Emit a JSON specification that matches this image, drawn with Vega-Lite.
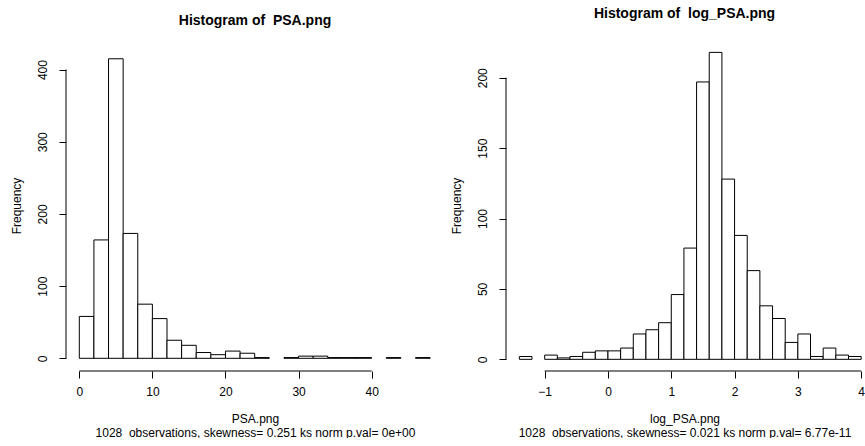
{
  "$schema": "https://vega.github.io/schema/vega-lite/v6.json",
  "padding": {"left": 10, "top": 7, "right": 0, "bottom": 0},
  "background": "white",
  "spacing": 62,
  "bounds": "flush",
  "config": {
    "view": {"stroke": null},
    "axis": {
      "domain": false, "grid": false, "tickColor": "black", "tickSize": 7, "tickWidth": 1,
      "labelColor": "black", "titleColor": "black", "labelFont": "Liberation Sans", "titleFont": "Liberation Sans",
      "labelFontSize": 12, "titleFontSize": 12, "titleFontWeight": "normal", "labelOverlap": false, "labelFlush": false
    },
    "title": {"font": "Liberation Sans", "fontSize": 14, "fontWeight": "bold", "color": "black", "anchor": "middle", "frame": "group", "baseline": "alphabetic"}
  },
  "hconcat": [
    {
      "title": {"text": "Histogram of\u00a0 PSA.png", "offset": 12},
      "width": 378, "height": 331,
      "data": {"values": [
        {"bin_start": 0, "bin_end": 2, "count": 58},
        {"bin_start": 2, "bin_end": 4, "count": 164},
        {"bin_start": 4, "bin_end": 6, "count": 415},
        {"bin_start": 6, "bin_end": 8, "count": 173},
        {"bin_start": 8, "bin_end": 10, "count": 75},
        {"bin_start": 10, "bin_end": 12, "count": 55},
        {"bin_start": 12, "bin_end": 14, "count": 25},
        {"bin_start": 14, "bin_end": 16, "count": 18},
        {"bin_start": 16, "bin_end": 18, "count": 8},
        {"bin_start": 18, "bin_end": 20, "count": 5},
        {"bin_start": 20, "bin_end": 22, "count": 10},
        {"bin_start": 22, "bin_end": 24, "count": 7},
        {"bin_start": 24, "bin_end": 26, "count": 1},
        {"bin_start": 28, "bin_end": 30, "count": 1},
        {"bin_start": 30, "bin_end": 32, "count": 3},
        {"bin_start": 32, "bin_end": 34, "count": 3},
        {"bin_start": 34, "bin_end": 36, "count": 1},
        {"bin_start": 36, "bin_end": 38, "count": 1},
        {"bin_start": 38, "bin_end": 40, "count": 1},
        {"bin_start": 42, "bin_end": 44, "count": 1},
        {"bin_start": 46, "bin_end": 48, "count": 1}
      ]},
      "layer": [
        {
          "mark": {"type": "rect", "fill": "white", "stroke": "black", "strokeWidth": 1},
          "encoding": {
            "x": {"field": "bin_start", "type": "quantitative",
                  "scale": {"domain": [-1.82, 49.9], "nice": false, "zero": false},
                  "axis": {"values": [0, 10, 20, 30, 40], "format": "d", "labelPadding": 8, "titlePadding": 16, "titleLineHeight": 14,
                           "title": ["PSA.png", "1028\u00a0 observations, skewness= 0.251 ks norm p.val= 0e+00"]}},
            "x2": {"field": "bin_end"},
            "y": {"field": "count", "type": "quantitative",
                  "scale": {"domain": [-17.6, 441], "nice": false, "zero": false},
                  "axis": {"values": [0, 100, 200, 300, 400], "format": "d", "labelAngle": -90, "labelPadding": 10, "titlePadding": 13, "title": "Frequency"}},
            "y2": {"datum": 0}
          }
        },
        {
          "data": {"values": [{}]},
          "mark": {"type": "rule", "color": "black", "strokeWidth": 1},
          "encoding": {
            "x": {"datum": 0, "type": "quantitative"},
            "x2": {"datum": 40},
            "y": {"datum": -17.6, "type": "quantitative"}
          }
        },
        {
          "data": {"values": [{}]},
          "mark": {"type": "rule", "color": "black", "strokeWidth": 1},
          "encoding": {
            "y": {"datum": 0, "type": "quantitative"},
            "y2": {"datum": 400},
            "x": {"datum": -1.82, "type": "quantitative"}
          }
        }
      ]
    },
    {
      "title": {"text": "Histogram of\u00a0 log_PSA.png", "offset": 19},
      "width": 357, "height": 331,
      "data": {"values": [
        {"bin_start": -1.4, "bin_end": -1.2, "count": 2},
        {"bin_start": -1.0, "bin_end": -0.8, "count": 3},
        {"bin_start": -0.8, "bin_end": -0.6, "count": 1},
        {"bin_start": -0.6, "bin_end": -0.4, "count": 2},
        {"bin_start": -0.4, "bin_end": -0.2, "count": 5},
        {"bin_start": -0.2, "bin_end": 0.0, "count": 6},
        {"bin_start": 0.0, "bin_end": 0.2, "count": 6},
        {"bin_start": 0.2, "bin_end": 0.4, "count": 8},
        {"bin_start": 0.4, "bin_end": 0.6, "count": 18},
        {"bin_start": 0.6, "bin_end": 0.8, "count": 21},
        {"bin_start": 0.8, "bin_end": 1.0, "count": 26},
        {"bin_start": 1.0, "bin_end": 1.2, "count": 46},
        {"bin_start": 1.2, "bin_end": 1.4, "count": 79},
        {"bin_start": 1.4, "bin_end": 1.6, "count": 197},
        {"bin_start": 1.6, "bin_end": 1.8, "count": 218},
        {"bin_start": 1.8, "bin_end": 2.0, "count": 128},
        {"bin_start": 2.0, "bin_end": 2.2, "count": 88},
        {"bin_start": 2.2, "bin_end": 2.4, "count": 63},
        {"bin_start": 2.4, "bin_end": 2.6, "count": 38},
        {"bin_start": 2.6, "bin_end": 2.8, "count": 29},
        {"bin_start": 2.8, "bin_end": 3.0, "count": 12},
        {"bin_start": 3.0, "bin_end": 3.2, "count": 18},
        {"bin_start": 3.2, "bin_end": 3.4, "count": 2},
        {"bin_start": 3.4, "bin_end": 3.6, "count": 8},
        {"bin_start": 3.6, "bin_end": 3.8, "count": 3},
        {"bin_start": 3.8, "bin_end": 4.0, "count": 2}
      ]},
      "layer": [
        {
          "mark": {"type": "rect", "fill": "white", "stroke": "black", "strokeWidth": 1},
          "encoding": {
            "x": {"field": "bin_start", "type": "quantitative",
                  "scale": {"domain": [-1.611, 4.029], "nice": false, "zero": false},
                  "axis": {"values": [-1, 0, 1, 2, 3, 4], "format": "d", "labelPadding": 8, "titlePadding": 16, "titleLineHeight": 14,
                           "title": ["log_PSA.png", "1028\u00a0 observations, skewness= 0.021 ks norm p.val= 6.77e-11"]}},
            "x2": {"field": "bin_end"},
            "y": {"field": "count", "type": "quantitative",
                  "scale": {"domain": [-8.3, 226.8], "nice": false, "zero": false},
                  "axis": {"values": [0, 50, 100, 150, 200], "format": "d", "labelAngle": -90, "labelPadding": 10, "titlePadding": 13, "title": "Frequency"}},
            "y2": {"datum": 0}
          }
        },
        {
          "data": {"values": [{}]},
          "mark": {"type": "rule", "color": "black", "strokeWidth": 1},
          "encoding": {
            "x": {"datum": -1, "type": "quantitative"},
            "x2": {"datum": 4},
            "y": {"datum": -8.3, "type": "quantitative"}
          }
        },
        {
          "data": {"values": [{}]},
          "mark": {"type": "rule", "color": "black", "strokeWidth": 1},
          "encoding": {
            "y": {"datum": 0, "type": "quantitative"},
            "y2": {"datum": 200},
            "x": {"datum": -1.611, "type": "quantitative"}
          }
        }
      ]
    }
  ]
}
